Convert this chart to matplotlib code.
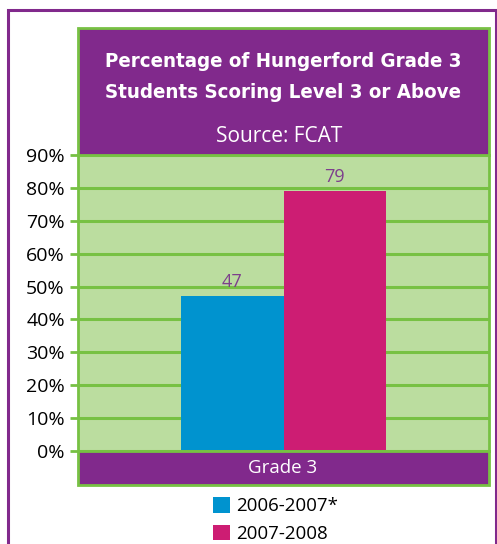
import matplotlib
matplotlib.use('Agg')
import matplotlib.pyplot as plt
from matplotlib.patches import Rectangle, Patch

# data
categories = ['Grade 3']
series_names = ['2006-2007*', '2007-2008']
series_values = [47, 79]
yticks = [0, 10, 20, 30, 40, 50, 60, 70, 80, 90]
ytick_labels = ['%d%%' % t for t in yticks]
title_text = 'Percentage of Hungerford Grade 3\nStudents Scoring Level 3 or Above'
source_text = 'Source: FCAT'

purple = '#81298c'
green = '#77c143'
light_green = '#bbdd9f'
bar_colors = ['#0093cf', '#cd1d73']
label_purple = '#7d3f8c'

plt.rcParams['font.family'] = ['Open Sans', 'DejaVu Sans']

W, H = 497, 544
fig = plt.figure(figsize=(W / 100, H / 100), dpi=100)


def fx(px):
    return px / W


def fy(py):
    return 1 - py / H


# outer purple frame
fig.patches.append(Rectangle((fx(8), fy(560)), fx(496) - fx(8), fy(10) - fy(560), transform=fig.transFigure,
                             facecolor='none', edgecolor=purple, linewidth=2.2, zorder=0))

# title box
fig.patches.append(Rectangle((fx(78), fy(155)), fx(489) - fx(78), fy(28) - fy(155), transform=fig.transFigure,
                             facecolor=purple, edgecolor=green, linewidth=2, zorder=1))
fig.text(fx(283), fy(77), title_text, ha='center', va='center', color='white', fontsize=14.7,
         fontweight='bold', fontstretch='condensed', family=['DejaVu Sans'], linespacing=1.85)
fig.text(fx(279), fy(137), source_text, ha='center', va='center', color='white', fontsize=15)

# category band
fig.patches.append(Rectangle((fx(78), fy(485)), fx(489) - fx(78), fy(451) - fy(485), transform=fig.transFigure,
                             facecolor=purple, edgecolor=green, linewidth=2, zorder=1))
fig.text(fx(283), fy(468), categories[0], ha='center', va='center', color='white', fontsize=13.5)

ax = fig.add_axes([fx(78), fy(451), fx(489) - fx(78), fy(155) - fy(451)])
ax.set_facecolor(light_green)
ax.set_xlim(-2, 2)
ax.set_ylim(0, 90)
ax.set_yticks(yticks)
ax.set_yticklabels(ytick_labels, fontsize=14)
ax.set_xticks([])
for t in yticks:
    ax.axhline(t, color=green, linewidth=2.2, zorder=1)
for s in ax.spines.values():
    s.set_color(green)
    s.set_linewidth(2)
ax.tick_params(axis='y', length=6, width=2, color=green, pad=3.5)

xs = [-0.5, 0.5]
bars = ax.bar(xs, series_values, width=1.0, color=bar_colors, zorder=2)
for x, v in zip(xs, series_values):
    ax.text(x, v + 1.5, str(v), ha='center', va='bottom', color=label_purple, fontsize=13)

handles = [Patch(facecolor=c, edgecolor='none') for c in bar_colors]
fig.legend(handles, series_names, loc='upper left', bbox_to_anchor=(fx(213), fy(497)),
           frameon=False, fontsize=13.5, handlelength=0.9, handleheight=0.9, handletextpad=0.35,
           labelspacing=0.5, borderpad=0, borderaxespad=0)

fig.savefig('out.png', dpi=100)
